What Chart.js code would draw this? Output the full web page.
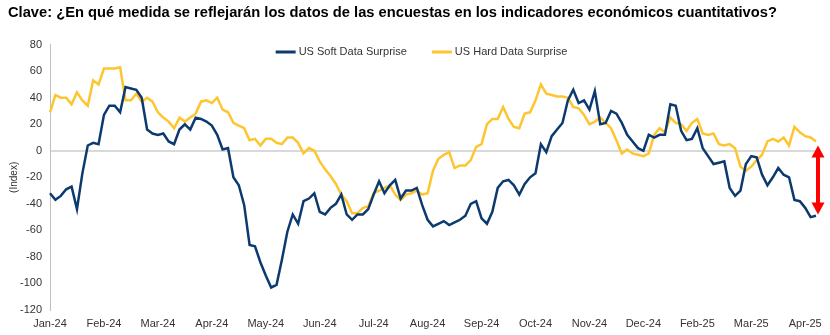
<!DOCTYPE html>
<html>
<head>
<meta charset="utf-8">
<script src="https://cdn.jsdelivr.net/npm/chart.js@4.4.1/dist/chart.umd.min.js"></script>
<style>
  html, body { margin: 0; padding: 0; background: #fff; }
  #wrap { width: 830px; height: 335px; }
</style>
</head>
<body>
<div id="wrap"><canvas id="surprise" width="830" height="335"></canvas></div>
<script>
// Month labels, one every 10 observations
const MONTHS = ['Jan-24', 'Feb-24', 'Mar-24', 'Apr-24', 'May-24', 'Jun-24', 'Jul-24', 'Aug-24',
  'Sep-24', 'Oct-24', 'Nov-24', 'Dec-24', 'Feb-25', 'Mar-25', 'Apr-25'];
const STEP = 10;

const SOFT = [
  -32, -37, -34, -29, -27, -44, -17, 4, 6, 5,
  27, 34, 34, 29, 48, 47, 46, 40, 16, 13,
  12, 13, 7, 5, 16, 20, 16, 25, 24, 22,
  19, 12, 1, 2, -20, -26, -41, -71, -72, -84,
  -94, -103, -101, -82, -61, -48, -55, -38, -36, -32,
  -46, -48, -43, -40, -33, -48, -52, -48, -48, -44,
  -33, -23, -32, -26, -22, -36, -30, -30, -28, -41,
  -52, -57, -55, -53, -56, -54, -52, -49, -40, -38,
  -51, -55, -46, -28, -23, -22, -26, -33, -25, -20,
  -17, 5, -1, 11, 16, 21, 38, 46, 36, 38,
  31, 45, 20, 21, 30, 28, 21, 12, 7, 2,
  0, 12, 10, 12, 12, 35, 34, 15, 8, 9,
  17, 2, -4, -10, -9, -8, -28, -34, -30, -10,
  -4, -5, -18, -26, -20, -13, -18, -20, -37, -38,
  -43, -50, -49
];

const HARD = [
  29, 42, 40, 40, 35, 44, 38, 34, 53, 50,
  62, 62, 62, 63, 38, 38, 43, 37, 40, 37,
  29, 25, 22, 17, 25, 22, 25, 28, 37, 38,
  36, 40, 31, 29, 21, 19, 17, 8, 9, 4,
  9, 9, 6, 5, 10, 10, 6, -2, 2, 0,
  -8, -14, -19, -25, -33, -38, -47, -47, -43, -42,
  -32, -30, -28, -26, -33, -37, -33, -32, -30, -33,
  -32, -15, -6, -3, -1, -13, -11, -11, -7, 3,
  5, 20, 24, 24, 33, 24, 18, 17, 28, 29,
  38, 50, 43, 42, 41, 41, 40, 33, 32, 27,
  20, 22, 25, 21, 17, 8, -2, 1, -2, -3,
  -4, -2, 12, 17, 14, 25, 21, 20, 15, 21,
  24, 13, 12, 13, 5, 4, 5, 2, -12, -15,
  -12, -7, -3, 7, 9, 7, 10, 4, 18, 14,
  11, 10, 7
];

// Gap marker between the two latest readings
const ARROW_TOP = 4;
const ARROW_BOTTOM = -48;

const NAVY = '#0c3a6e';
const GOLD = '#fdc530';
const FONT = "'Liberation Sans', Arial, sans-serif";

const categories = SOFT.map((_, i) => i);

const legendPlugin = {
  id: 'topLegend',
  afterDraw(chart) {
    const { ctx } = chart;
    const items = [
      { text: 'US Soft Data Surprise', color: NAVY },
      { text: 'US Hard Data Surprise', color: GOLD },
    ];
    ctx.save();
    ctx.font = '11px ' + FONT;
    const lineW = 20, gap = 3, spacing = 25;
    const widths = items.map((it) => ctx.measureText(it.text).width);
    const total = widths.reduce((a, w) => a + lineW + gap + w, 0) + spacing * (items.length - 1);
    let x = 421.5 - total / 2;
    const y = 52;
    items.forEach((it, i) => {
      ctx.strokeStyle = it.color;
      ctx.lineWidth = 3;
      ctx.beginPath();
      ctx.moveTo(x, y);
      ctx.lineTo(x + lineW, y);
      ctx.stroke();
      ctx.fillStyle = '#333';
      ctx.textBaseline = 'middle';
      ctx.fillText(it.text, x + lineW + gap, y);
      x += lineW + gap + widths[i] + spacing;
    });
    ctx.restore();
  },
};

const arrowPlugin = {
  id: 'gapArrow',
  afterDatasetsDraw(chart) {
    const { ctx, scales } = chart;
    const x = scales.x.getPixelForValue(SOFT.length - 1) + 2;
    const y1 = scales.y.getPixelForValue(ARROW_TOP);
    const y2 = scales.y.getPixelForValue(ARROW_BOTTOM);
    const headH = 12, headW = 13, shaft = 4;
    ctx.save();
    ctx.fillStyle = '#ff0000';
    ctx.fillRect(x - shaft / 2, y1 + headH - 1, shaft, y2 - y1 - 2 * headH + 2);
    ctx.beginPath();
    ctx.moveTo(x, y1);
    ctx.lineTo(x + headW / 2, y1 + headH);
    ctx.lineTo(x - headW / 2, y1 + headH);
    ctx.closePath();
    ctx.fill();
    ctx.beginPath();
    ctx.moveTo(x, y2);
    ctx.lineTo(x + headW / 2, y2 - headH);
    ctx.lineTo(x - headW / 2, y2 - headH);
    ctx.closePath();
    ctx.fill();
    ctx.restore();
  },
};

new Chart(document.getElementById('surprise'), {
  type: 'line',
  data: {
    labels: categories,
    datasets: [
      { label: 'US Soft Data Surprise', data: SOFT, borderColor: NAVY, borderWidth: 2.5, pointRadius: 0, tension: 0 },
      { label: 'US Hard Data Surprise', data: HARD, borderColor: GOLD, borderWidth: 2.5, pointRadius: 0, tension: 0 },
    ],
  },
  options: {
    responsive: false,
    animation: false,
    layout: { padding: { left: 8, right: 14, top: 0, bottom: 0 } },
    plugins: {
      legend: { display: false },
      tooltip: { enabled: false },
      title: {
        display: true,
        align: 'start',
        text: 'Clave: ¿En qué medida se reflejarán los datos de las encuestas en los indicadores económicos cuantitativos?',
        color: '#000',
        font: { family: FONT, size: 14.7, weight: 'bold' },
        padding: { top: 4, bottom: 23 },
      },
    },
    scales: {
      x: {
        offset: false,
        afterFit: (scale) => { scale.height = 25; },
        grid: { display: false, drawTicks: false },
        border: { display: false },
        ticks: {
          autoSkip: false,
          maxRotation: 0,
          padding: 7,
          color: '#333',
          font: { family: FONT, size: 11 },
          callback: (v, i) => (i % STEP === 0 ? MONTHS[i / STEP] : null),
        },
      },
      y: {
        min: -120,
        max: 80,
        afterFit: (scale) => { scale.width = 42; },
        grid: {
          drawTicks: false,
          lineWidth: 2,
          color: (c) => (c.tick && c.tick.value === 0 ? '#d9d9d9' : 'rgba(0,0,0,0)'),
        },
        border: { display: true, color: '#bfbfbf', width: 1 },
        title: {
          display: true,
          text: '(Index)',
          color: '#333',
          font: { family: FONT, size: 10 },
          padding: { top: 0, bottom: 0 },
        },
        ticks: {
          stepSize: 20,
          padding: 8,
          color: '#333',
          font: { family: FONT, size: 11 },
        },
      },
    },
  },
  plugins: [legendPlugin, arrowPlugin],
});
</script>
</body>
</html>
